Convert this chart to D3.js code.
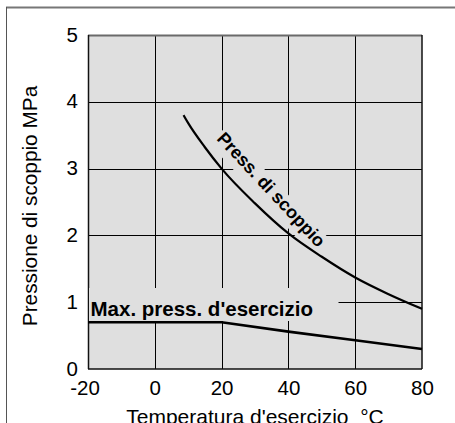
<!DOCTYPE html>
<html>
<head>
<meta charset="utf-8">
<script src="https://cdn.jsdelivr.net/npm/d3@7"></script>
<style>
  body { margin: 0; background: #fff; }
  text { font-family: Arial, "Liberation Sans", sans-serif; }
</style>
</head>
<body>
<div id="chart"></div>
<script>
// data
var xTicks = [-20, 0, 20, 40, 60, 80];
var yTicks = [0, 1, 2, 3, 4, 5];
var burstTemp = [8.6, 10, 15, 20, 30, 40, 50, 60, 70, 80];
var burstPress = [3.8, 3.68, 3.32, 3.0, 2.48, 2.03, 1.68, 1.37, 1.12, 0.9];
var workTemp = [-20, 20, 40, 60, 80];
var workPress = [0.7, 0.7, 0.56, 0.43, 0.3];

var W = 455, H = 423;
var margin = {top: 35, right: 33, bottom: 54, left: 88},
    width = W - margin.left - margin.right,
    height = H - margin.top - margin.bottom;

var svg = d3.select("#chart")
  .append("svg")
    .attr("width", W)
    .attr("height", H);

// outer frame (only top and left show)
svg.append("line").attr("x1", 6).attr("x2", W).attr("y1", 7.5).attr("y2", 7.5)
  .attr("stroke", "#777").attr("stroke-width", 2);
svg.append("line").attr("x1", 6.5).attr("x2", 6.5).attr("y1", 7).attr("y2", H)
  .attr("stroke", "#555").attr("stroke-width", 1);

var g = svg.append("g")
  .attr("transform", "translate(" + margin.left + "," + margin.top + ")");

var x = d3.scaleLinear().domain([-20, 80]).range([0, width]);
var y = d3.scaleLinear().domain([0, 5]).range([height, 0]);

// plot background
g.append("rect")
  .attr("width", width).attr("height", height)
  .attr("fill", "#dfdfdf");

// grid
g.selectAll(".vgrid").data(xTicks.slice(1, -1)).enter().append("line")
  .attr("x1", function(d) { return Math.round(x(d)) + 0.5; })
  .attr("x2", function(d) { return Math.round(x(d)) + 0.5; })
  .attr("y1", 0).attr("y2", height)
  .attr("stroke", "#000").attr("stroke-width", 1);
g.selectAll(".hgrid").data(yTicks.slice(1, -1)).enter().append("line")
  .attr("y1", function(d) { return Math.round(y(d)) + 0.5; })
  .attr("y2", function(d) { return Math.round(y(d)) + 0.5; })
  .attr("x1", 0).attr("x2", width)
  .attr("stroke", "#000").attr("stroke-width", 1);

// frame of plot
g.append("line").attr("x1", 0).attr("x2", width).attr("y1", 0.5).attr("y2", 0.5)
  .attr("stroke", "#6a6a6a").attr("stroke-width", 2);
g.append("line").attr("x1", width).attr("x2", width).attr("y1", 0).attr("y2", height)
  .attr("stroke", "#111").attr("stroke-width", 1.5);
g.append("line").attr("x1", 0.5).attr("x2", 0.5).attr("y1", 0).attr("y2", height)
  .attr("stroke", "#111").attr("stroke-width", 1.5);
g.append("line").attr("x1", 0).attr("x2", width).attr("y1", height).attr("y2", height)
  .attr("stroke", "#111").attr("stroke-width", 1.5);

// label boxes masking the grid
var maxLbl = g.append("g");
maxLbl.append("rect")
  .attr("x", 1).attr("y", 253).attr("width", x(55) - 1).attr("height", 33)
  .attr("fill", "#dfdfdf");
maxLbl.append("text")
  .attr("x", 2.5).attr("y", 280.5)
  .attr("font-size", 20.5).attr("font-weight", "bold")
  .text("Max. press. d'esercizio");

var bx = x(18.3), by = y(3.44);
var burstLbl = g.append("g")
  .attr("transform", "translate(" + bx + "," + by + ") rotate(47)");
burstLbl.append("rect")
  .attr("x", -2).attr("y", -15).attr("width", 152).attr("height", 23)
  .attr("fill", "#dfdfdf");
burstLbl.append("text")
  .attr("font-size", 18).attr("font-weight", "bold")
  .text("Press. di scoppio");

// curves
var burst = burstTemp.map(function(t, i) { return [t, burstPress[i]]; });
var work = workTemp.map(function(t, i) { return [t, workPress[i]]; });

g.append("path")
  .datum(burst)
  .attr("fill", "none").attr("stroke", "#000").attr("stroke-width", 2.2)
  .attr("d", d3.line()
    .curve(d3.curveMonotoneX)
    .x(function(d) { return x(d[0]); })
    .y(function(d) { return y(d[1]); }));

g.append("path")
  .datum(work)
  .attr("fill", "none").attr("stroke", "#000").attr("stroke-width", 2.6)
  .attr("d", d3.line()
    .x(function(d) { return x(d[0]); })
    .y(function(d) { return y(d[1]); }));

// axes (labels only)
var xAxis = g.append("g")
  .attr("transform", "translate(0," + height + ")")
  .call(d3.axisBottom(x).tickValues(xTicks).tickSize(0).tickPadding(11)
    .tickFormat(function(d) { return String(d); }));
xAxis.select(".domain").remove();
xAxis.selectAll("text")
  .attr("font-size", 20.5).attr("fill", "#000")
  .attr("dx", function(d) { return d < 0 ? "-3.5" : 0; });

var yAxis = g.append("g")
  .call(d3.axisLeft(y).tickValues(yTicks).tickSize(0).tickPadding(10)
    .tickFormat(function(d) { return String(d); }));
yAxis.select(".domain").remove();
yAxis.selectAll("text").attr("font-size", 20.5).attr("fill", "#000")
  .attr("dy", "0.3em");

// axis titles
svg.append("text")
  .attr("x", margin.left + width / 2).attr("y", 424)
  .attr("text-anchor", "middle").attr("font-size", 21)
  .text("Temperatura d'esercizio \u00A0\u00B0C");

svg.append("text")
  .attr("transform", "translate(37," + (margin.top + height / 2 + 4) + ") rotate(-90)")
  .attr("text-anchor", "middle").attr("font-size", 20.8)
  .text("Pressione di scoppio MPa");
</script>
</body>
</html>
